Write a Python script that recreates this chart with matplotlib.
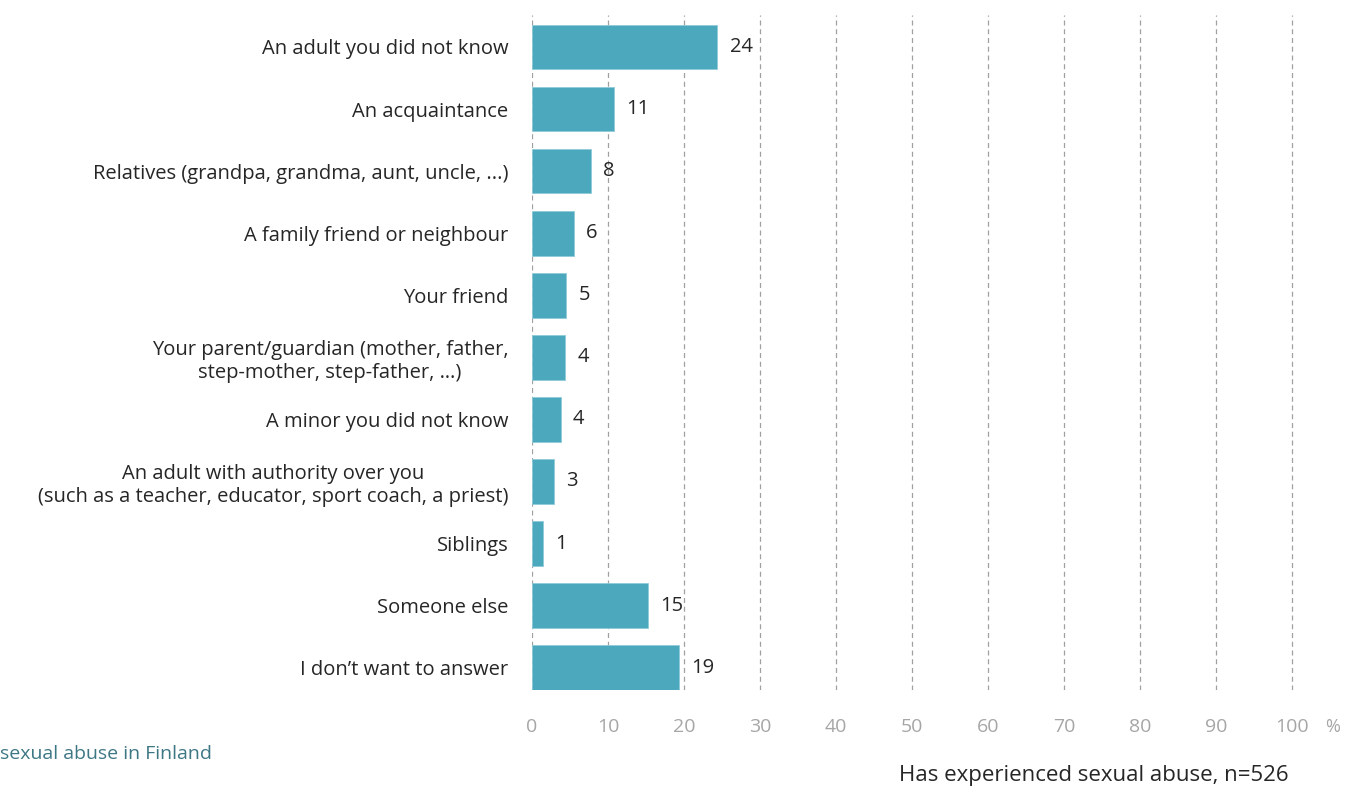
import numpy as np
import matplotlib.pyplot as plt

# data
categories = [
    'An adult you did not know',
    'An acquaintance',
    'Relatives (grandpa, grandma, aunt, uncle, ...)',
    'A family friend or neighbour',
    'Your friend',
    'Your parent/guardian (mother, father,\nstep-mother, step-father, \u2026)',
    'A minor you did not know',
    'An adult with authority over you\n(such as a teacher, educator, sport coach, a priest)',
    'Siblings',
    'Someone else',
    'I don\u2019t want to answer',
]
values = [24.4, 10.8, 7.8, 5.5, 4.5, 4.4, 3.8, 2.9, 1.4, 15.2, 19.4]
labels = ['24', '11', '8', '6', '5', '4', '4', '3', '1', '15', '19']
ticks = [0, 10, 20, 30, 40, 50, 60, 70, 80, 90, 100]

plt.rcParams['font.family'] = ['Open Sans', 'DejaVu Sans']

fig = plt.figure(figsize=(13.53, 7.93), dpi=100)
# x range padded a little so the 100 gridline is not clipped
ax = fig.add_axes([532 / 1353, 103 / 793, 763.8 / 1353, 675 / 793])

y = np.arange(len(categories))
ax.barh(y, values, height=0.72, color='#4ba8bd', edgecolor='#8fcbd8', linewidth=0.6, zorder=3)

for yi, v, lab in zip(y, values, labels):
    ax.text(v + 1.6, yi, lab, va='center', ha='left', fontsize=14.5, color='#262626')

ax.set_xlim(0, 100.5)
ax.set_ylim(10.36, -0.515)
ax.set_xticks(ticks)
ax.set_xticklabels([str(t) for t in ticks])
ax.set_yticks(y)
ax.set_yticklabels(categories, fontsize=14.5, color='#262626')
ax.tick_params(axis='y', length=0, pad=17)
ax.tick_params(axis='x', length=0, pad=20, labelsize=14, labelcolor='#a6a6a6')
for lbl in ax.get_yticklabels():
    lbl.set_horizontalalignment('right')
    lbl.set_multialignment('center')

ax.grid(axis='x', color='#a0a0a0', linestyle=(0, (4, 3)), linewidth=0.9, zorder=0)
for s in ax.spines.values():
    s.set_visible(False)

fig.text(1333 / 1353, 1 - 727 / 793, '%', ha='center', va='center', fontsize=13, color='#a6a6a6')
fig.text(0, 1 - 754 / 793, 'sexual abuse in Finland', ha='left', va='center', fontsize=14, color='#3d7784')
fig.text(1094 / 1353, 1 - 775 / 793, 'Has experienced sexual abuse, n=526', ha='center', va='center',
         fontsize=16, color='#262626')

fig.savefig('out.png', dpi=100)
